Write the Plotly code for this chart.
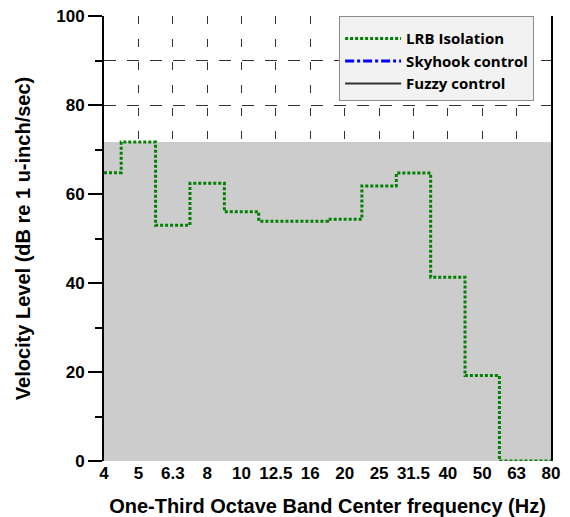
import plotly.graph_objects as go

bands = ["4", "5", "6.3", "8", "10", "12.5", "16", "20", "25", "31.5", "40", "50", "63", "80"]
lrb_isolation = [64.8, 71.7, 53.0, 62.4, 56.0, 53.9, 53.9, 54.3, 61.8, 64.7, 41.3, 19.2, 0.0, 0.0]
shaded_level = 71.7
y_ticks = [0, 20, 40, 60, 80, 100]

idx = list(range(len(bands)))
FONT = "Liberation Sans"

fig = go.Figure()

# gray shaded region
fig.add_trace(go.Scatter(
    x=[idx[0], idx[-1]], y=[shaded_level, shaded_level],
    mode="lines", line=dict(width=0, color="#cccccc"),
    fill="tozeroy", fillcolor="#cccccc", showlegend=False, hoverinfo="skip"))

fig.add_trace(go.Scatter(
    x=idx, y=lrb_isolation, name="LRB Isolation", mode="lines",
    line=dict(shape="hvh", color="#008000", width=3, dash="3px,2px")))
fig.add_trace(go.Scatter(
    x=[None], y=[None], name="Skyhook control", mode="lines",
    line=dict(color="#0000ff", width=3, dash="dashdot")))
fig.add_trace(go.Scatter(
    x=[None], y=[None], name="Fuzzy control", mode="lines",
    line=dict(color="#333333", width=2)))

fig.update_layout(
    width=570, height=517,
    margin=dict(l=104, r=19, t=16, b=56, autoexpand=False),
    plot_bgcolor="white", paper_bgcolor="white",
    font=dict(family=FONT, color="black"),
    xaxis=dict(
        range=[0, 13], tickmode="array", tickvals=idx,
        ticktext=[f"<b>{b}</b>" for b in bands],
        ticks="", showline=False, zeroline=False, automargin=False,
        showgrid=True, gridcolor="#333333", gridwidth=1, griddash="8px,15px",
        tickfont=dict(size=17, family=FONT),
        title=dict(text="<b>One-Third Octave Band Center frequency (Hz)</b>",
                   font=dict(size=20, family=FONT), standoff=16),
    ),
    xaxis2=dict(range=[0, 13], overlaying="x", side="top", showline=True,
                linecolor="black", linewidth=2, showticklabels=False,
                ticks="", showgrid=False, zeroline=False, automargin=False),
    yaxis=dict(
        range=[0, 100], tickmode="array", tickvals=y_ticks,
        ticktext=[f"<b>{v}</b>" for v in y_ticks],
        ticks="outside", ticklen=14, tickwidth=2, tickcolor="black",
        showline=True, linecolor="black", linewidth=2, mirror=True,
        layer="below traces", zeroline=False, automargin=False,
        showgrid=True, gridcolor="#333333", gridwidth=1, griddash="12px,11px",
        minor=dict(dtick=10, tick0=0, ticks="outside", ticklen=7, tickwidth=1.5,
                   tickcolor="black", showgrid=True, gridcolor="#333333",
                   gridwidth=1, griddash="12px,11px"),
        tickfont=dict(size=17, family=FONT),
        title=dict(text="<b>Velocity Level (dB re 1 u-inch/sec)</b>",
                   font=dict(size=20, family=FONT), standoff=20),
    ),
    legend=dict(
        x=0.526, y=1.0, xanchor="left", yanchor="top",
        bgcolor="#f2f2f2", bordercolor="#8c8c8c", borderwidth=1,
        font=dict(family="Open Sans", size=15, weight="bold"),
        itemwidth=56, tracegroupgap=0, entrywidth=180,
        title=dict(text=" ", font=dict(size=4)),
    ),
)

fig.write_html("out.html")
